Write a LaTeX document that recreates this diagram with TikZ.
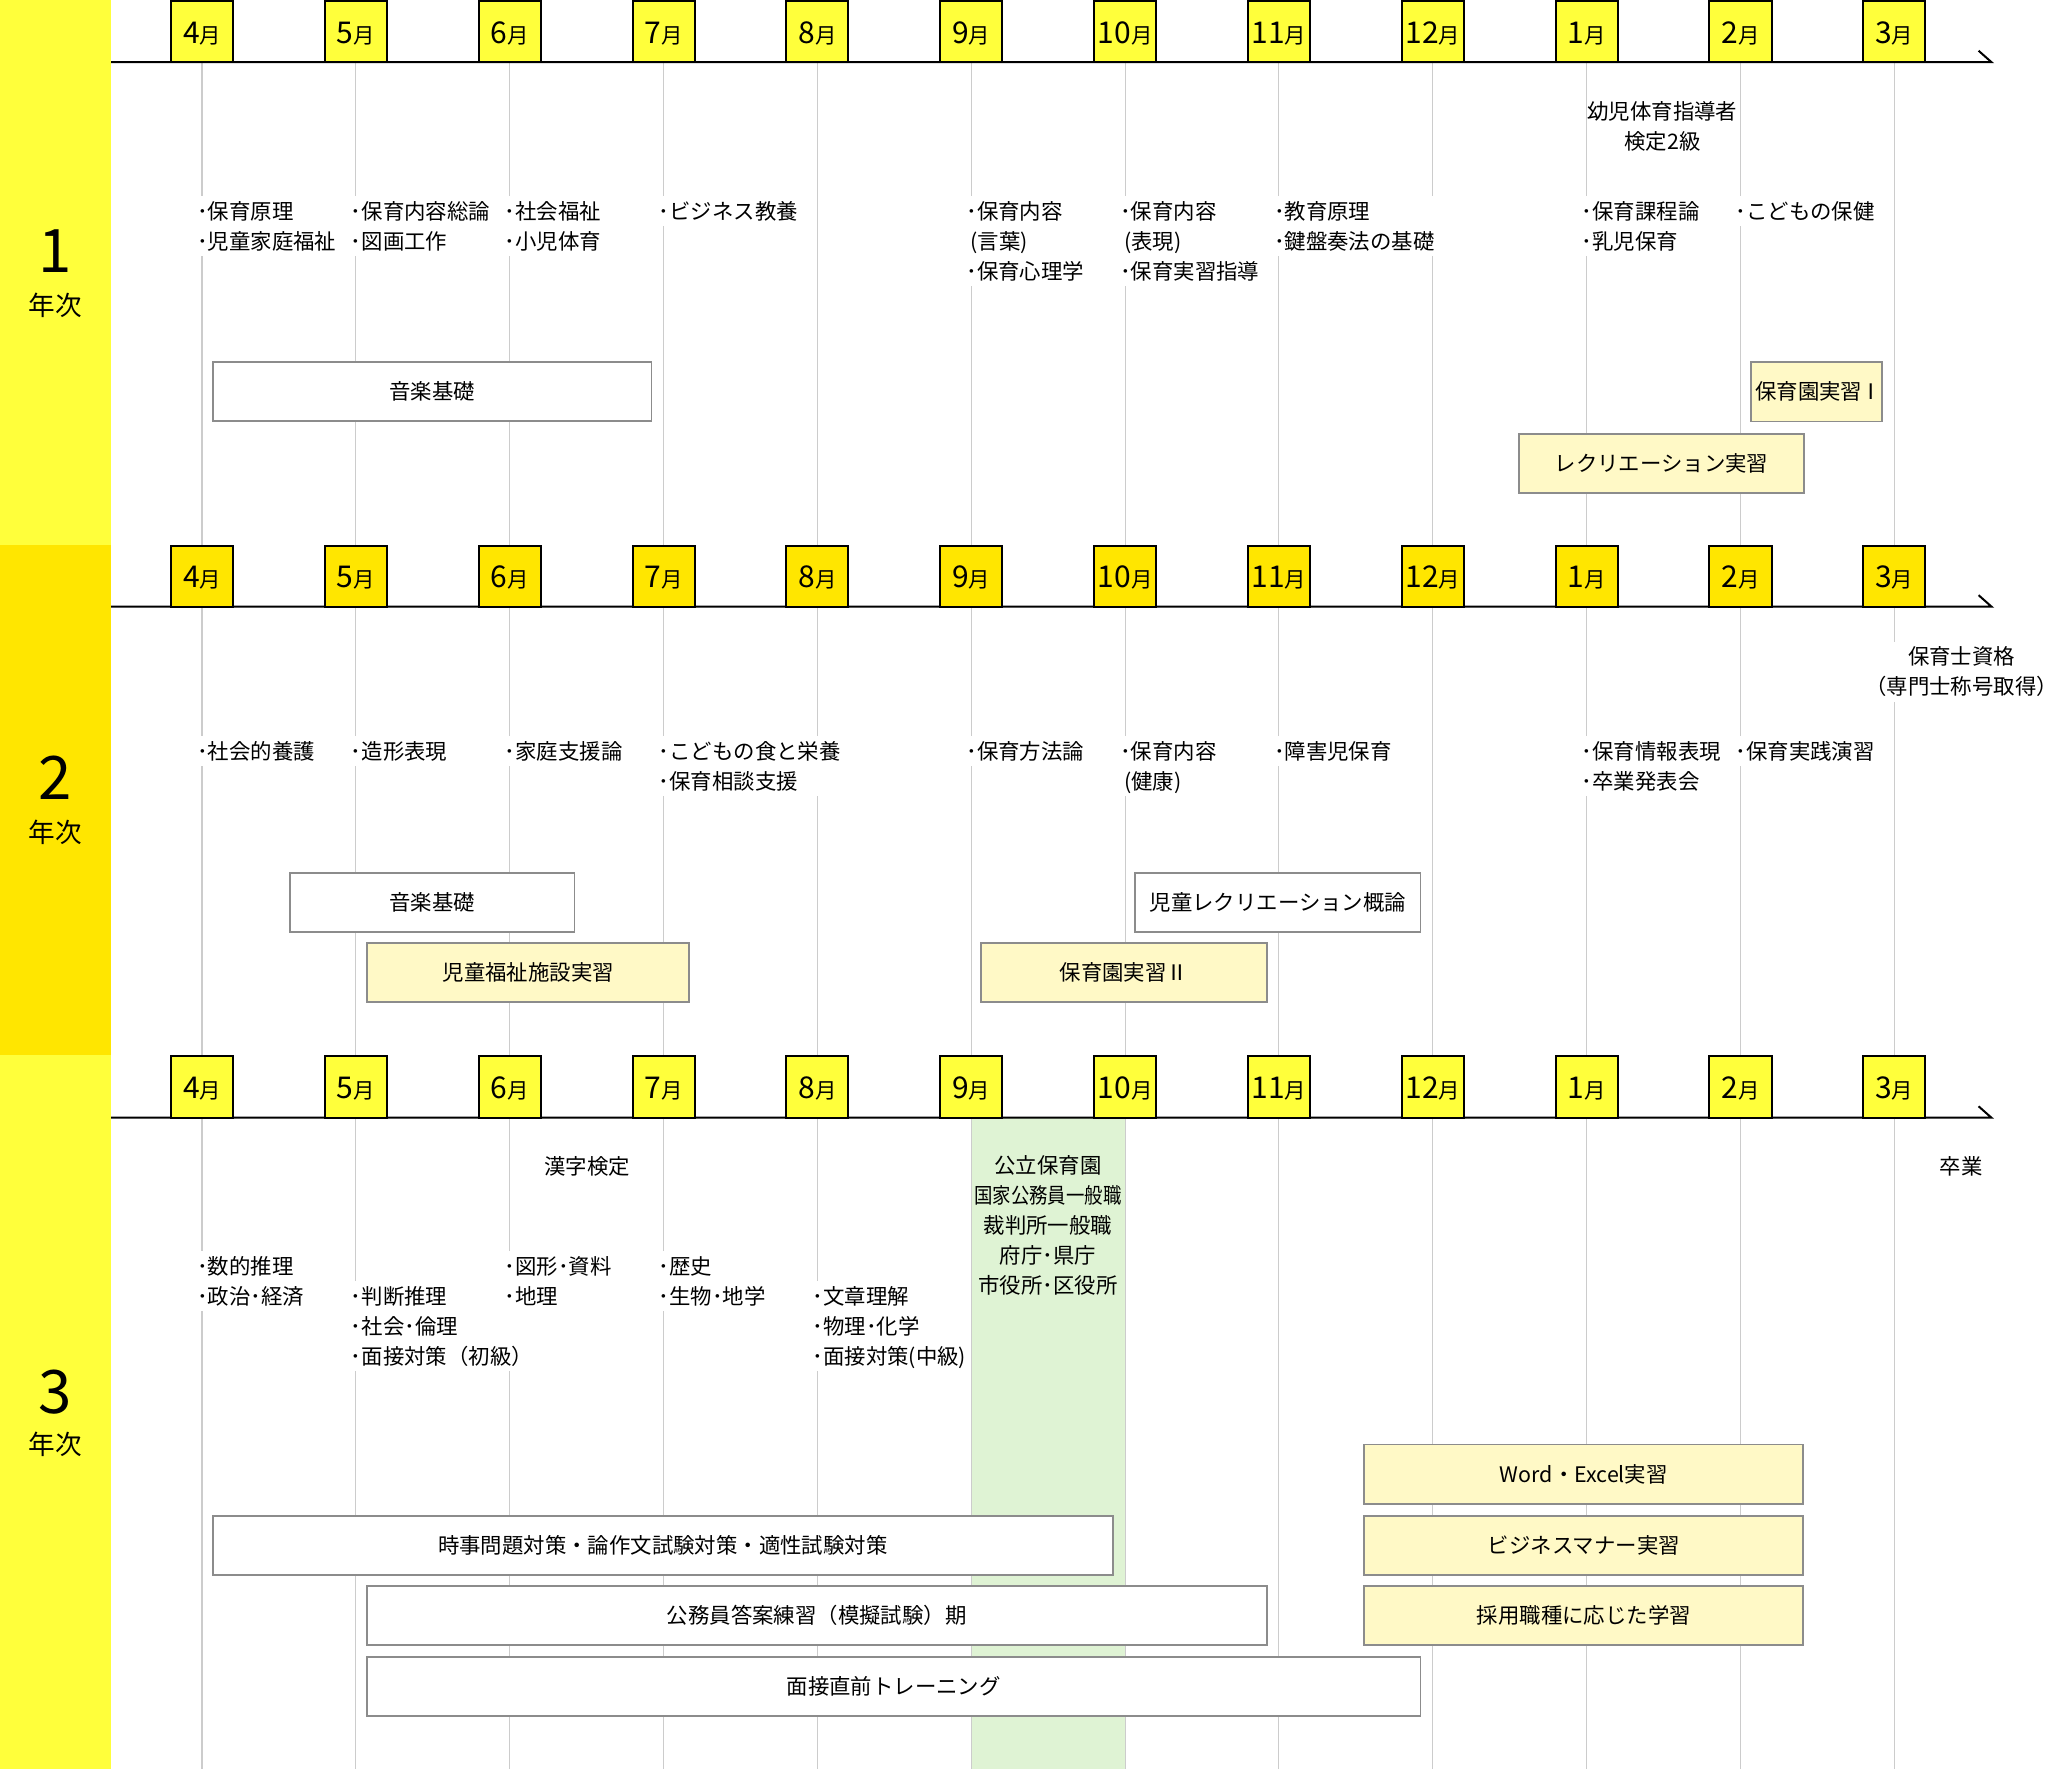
\documentclass[tikz,border=0pt]{standalone}
\usepackage{fontspec}
\usepackage{graphicx}
\setmainfont{Noto Sans CJK JP}
\definecolor{yelA}{HTML}{FFFF3B}
\definecolor{yelB}{HTML}{FFE600}
\definecolor{boxY}{HTML}{FFF9C6}
\definecolor{bandG}{HTML}{DFF3D4}
\definecolor{gridC}{HTML}{CCCCCC}
\definecolor{boxC}{HTML}{8C8C8C}
\newcommand{\Ls}{\rule[-3.43pt]{0pt}{15pt}}
\newcommand{\tlbox}[7]{\node[#1, minimum width={(#4-#3)*0.6607pt}, minimum height={(#6-#5)*0.6607pt}] (#2) at ({(#3+#4)/2},{(#5+#6)/2}) {\Ls #7};}
\begin{document}
\begin{tikzpicture}[x=0.6607pt,y=-0.6607pt,
  txt/.style={font=\fontsize{10.7}{15}\selectfont, inner sep=0pt},
  lst/.style={txt, align=left, anchor=north west, fill=white},
  ctr/.style={txt, align=center, anchor=north},
  cbox/.style={txt, draw=boxC, line width=0.9pt},
  wbox/.style={cbox, fill=white},
  ybox/.style={cbox, fill=boxY},
  mbox/.style={draw=black, line width=1pt, inner sep=0pt},
  gridln/.style={draw=gridC, line width=0.55pt},
  axisln/.style={draw=black, line width=1pt},
  yrnum/.style={font=\fontsize{30}{30}\selectfont, anchor=base, inner sep=0pt},
  yrtxt/.style={font=\fontsize{13.3}{14}\selectfont, anchor=base, inner sep=0pt},
]
\useasboundingbox (0,0) rectangle (1568,1338.7);
\fill[white] (0,0) rectangle (1568,1338.7);
% sidebars
\fill[yelA] (0,0) rectangle (84,412.4);
\fill[yelB] (0,412.4) rectangle (84,798.4);
\fill[yelA] (0,798.4) rectangle (84,1338.7);
\node[yrnum] (n1) at (41.5,206.4) {1};
\node[yrtxt] (y1) at (42,238.6) {年次};
\node[yrnum] (n2) at (41.5,605.4) {2};
\node[yrtxt] (y2) at (42,637.6) {年次};
\node[yrnum] (n3) at (41.5,1069.5) {3};
\node[yrtxt] (y3) at (42,1100.6) {年次};
% green band
\fill[bandG] (735,845.8) rectangle (851,1338.7);
% grid, axes, month boxes
\foreach \yr/\t/\a/\b/\col in {1/0.75/47/412.4/yelA,2/413/459/798.4/yelB,3/799/845.8/1338.7/yelA}{
  \foreach \m [count=\i from 0] in {4,5,6,7,8,9,10,11,12,1,2,3}{
    \pgfmathsetmacro\mx{152.9+116.42*\i}
    \draw[gridln] (\mx,\a) -- (\mx,\b);
  }
  \draw[axisln] (84,\a) -- (1507,\a) -- (1497.3,\a-8.6);
  \foreach \m [count=\i from 0] in {4,5,6,7,8,9,10,11,12,1,2,3}{
    \pgfmathsetmacro\mx{152.9+116.42*\i}
    \node[mbox, fill=\col, minimum width=31.05pt, minimum height={(\a-\t)*0.6607pt}] (mb\yr-\i) at (\mx,{(\t+\a)/2}) {};
    \node[anchor=base, inner sep=0pt] (ml\yr-\i) at (\mx,\a-14.4) {{\fontsize{15}{15}\selectfont\m}{\fontsize{10.7}{12}\selectfont 月}};
  }
}
% ---- year 1 texts
\node[lst] (a1) at (148.9,148.25) {\Ls ･保育原理\\\Ls ･児童家庭福祉};
\node[lst] (a2) at (265.3,148.25) {\Ls ･保育内容総論\\\Ls ･図画工作};
\node[lst] (a3) at (381.7,148.25) {\Ls ･社会福祉\\\Ls ･小児体育};
\node[lst] (a4) at (498.2,148.25) {\Ls ･ビジネス教養};
\node[lst] (a5) at (731.0,148.25) {\Ls ･保育内容\\\Ls\kern2pt(言葉)\\\Ls ･保育心理学};
\node[lst] (a6) at (847.4,148.25) {\Ls ･保育内容\\\Ls\kern2pt(表現)\\\Ls ･保育実習指導};
\node[lst] (a7) at (963.8,148.25) {\Ls ･教育原理\\\Ls ･鍵盤奏法の基礎};
\node[lst] (a8) at (1196.7,148.25) {\Ls ･保育課程論\\\Ls ･乳児保育};
\node[lst] (a9) at (1313.1,148.25) {\Ls ･こどもの保健};
\node[ctr, fill=white] (q1) at (1258,72.45) {\Ls 幼児体育指導者\\\Ls 検定2級};
\tlbox{wbox}{k1}{161}{493}{273.7}{318.6}{音楽基礎}
\tlbox{ybox}{k2}{1324.8}{1424.4}{273.8}{318.9}{保育園実習\kern-1ptⅠ\kern-2pt}
\tlbox{ybox}{k3}{1149.3}{1365.4}{328.4}{373}{レクリエーション実習}
% ---- year 2 texts
\node[lst] (b1) at (148.9,556.85) {\Ls ･社会的養護};
\node[lst] (b2) at (265.3,556.85) {\Ls ･造形表現};
\node[lst] (b3) at (381.7,556.85) {\Ls ･家庭支援論};
\node[lst] (b4) at (498.2,556.85) {\Ls ･こどもの食と栄養\\\Ls ･保育相談支援};
\node[lst] (b5) at (731.0,556.85) {\Ls ･保育方法論};
\node[lst] (b6) at (847.4,556.85) {\Ls ･保育内容\\\Ls\kern2pt(健康)};
\node[lst] (b7) at (963.8,556.85) {\Ls ･障害児保育};
\node[lst] (b8) at (1196.7,556.85) {\Ls ･保育情報表現\\\Ls ･卒業発表会};
\node[lst] (b9) at (1313.1,556.85) {\Ls ･保育実践演習};
\node[ctr, fill=white] (q2) at (1484.5,485.25) {\Ls 保育士資格\\\Ls （専門士称号取得）};
\tlbox{wbox}{k4}{219.6}{434.8}{660.4}{705.3}{音楽基礎}
\tlbox{ybox}{k5}{278}{521.7}{713.4}{758.3}{児童福祉施設実習}
\tlbox{wbox}{k6}{859.2}{1075}{660.4}{705.3}{児童レクリエーション概論}
\tlbox{ybox}{k7}{742.5}{958.5}{713.4}{758.3}{保育園実習Ⅱ}
% ---- year 3 texts
\node[ctr] (c0) at (444.4,870.65) {\Ls 漢字検定};
\node[ctr] (cb) at (793,870.55) {\Ls 公立保育園\\\Ls\scalebox{0.86}[1]{国家公務員一般職}\\\Ls 裁判所一般職\\\Ls 府庁･県庁\\\Ls 市役所･区役所};
\node[ctr] (cg) at (1484,870.65) {\Ls 卒業};
\node[lst] (c1) at (148.9,946.65) {\Ls ･数的推理\\\Ls ･政治･経済};
\node[lst] (c2) at (265.3,969.25) {\Ls ･判断推理\\\Ls ･社会･倫理\\\Ls ･面接対策（初級）};
\node[lst] (c3) at (381.7,946.65) {\Ls ･図形･資料\\\Ls ･地理};
\node[lst] (c4) at (498.2,946.65) {\Ls ･歴史\\\Ls ･生物･地学};
\node[lst] (c5) at (614.6,969.25) {\Ls ･文章理解\\\Ls ･物理･化学\\\Ls ･面接対策(中級)};
\tlbox{ybox}{k8}{1032.5}{1364.7}{1093.2}{1138.2}{Word・Excel実習}
\tlbox{ybox}{k9}{1032.5}{1364.7}{1147}{1192}{ビジネスマナー実習}
\tlbox{ybox}{k10}{1032.5}{1364.7}{1200.4}{1244.8}{採用職種に応じた学習}
\tlbox{wbox}{k11}{160.9}{842.2}{1147}{1192}{時事問題対策・論作文試験対策・適性試験対策}
\tlbox{wbox}{k12}{277.7}{958.5}{1200.4}{1244.8}{公務員答案練習（模擬試験）期}
\tlbox{wbox}{k13}{277.7}{1075}{1254}{1298.4}{面接直前トレーニング}
\end{tikzpicture}
\end{document}
